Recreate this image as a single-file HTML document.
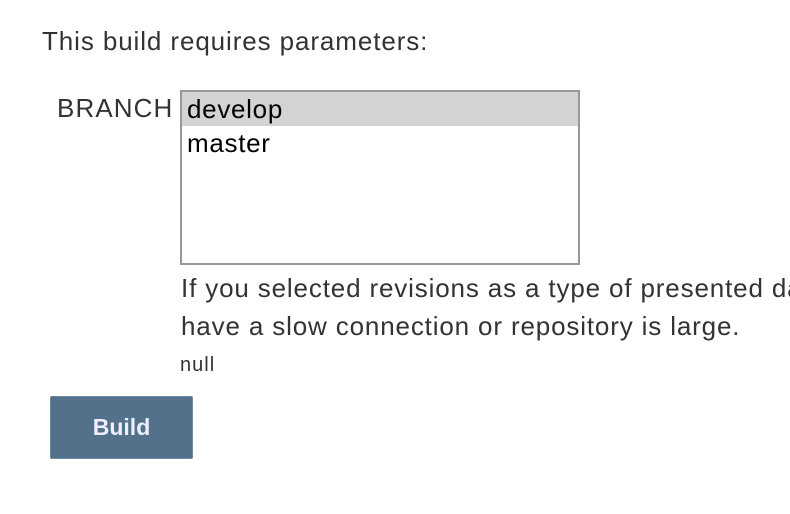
<!DOCTYPE html>
<html><head><style>
body{margin:0;width:790px;height:514px;background:#fff;font-family:"Liberation Sans",sans-serif;overflow:hidden;position:relative;color:#333}
.a{position:absolute;white-space:nowrap}
</style></head><body>
<div class="a" style="left:42px;top:26px;font-size:26px;letter-spacing:0.9px;">This build requires parameters:</div>
<div class="a" style="left:57px;top:93px;font-size:26px;letter-spacing:1.1px;">BRANCH</div>
<div class="a" style="left:180px;top:90px;width:396px;height:171px;border:2px solid #999;background:#fff;">
 <div style="height:34px;background:#d3d3d3;font-size:26px;letter-spacing:0.7px;color:#000;padding-left:5px;line-height:34px;">develop</div>
 <div style="height:34px;font-size:26px;letter-spacing:0.7px;color:#000;padding-left:5px;line-height:34px;">master</div>
</div>
<div class="a" style="left:181px;top:269px;font-size:26px;letter-spacing:0.85px;line-height:38px;">If you selected revisions as a type of presented data<br>have a slow connection or repository is large.</div>
<div class="a" style="left:180px;top:354px;font-size:20px;letter-spacing:1px;">null</div>
<div class="a" style="left:50px;top:396px;width:141px;height:61px;background:#53718a;border:1px solid #6a8aa0;border-radius:2px;color:#eef;font-weight:bold;font-size:23px;text-align:center;line-height:61px;">Build</div>
</body></html>
